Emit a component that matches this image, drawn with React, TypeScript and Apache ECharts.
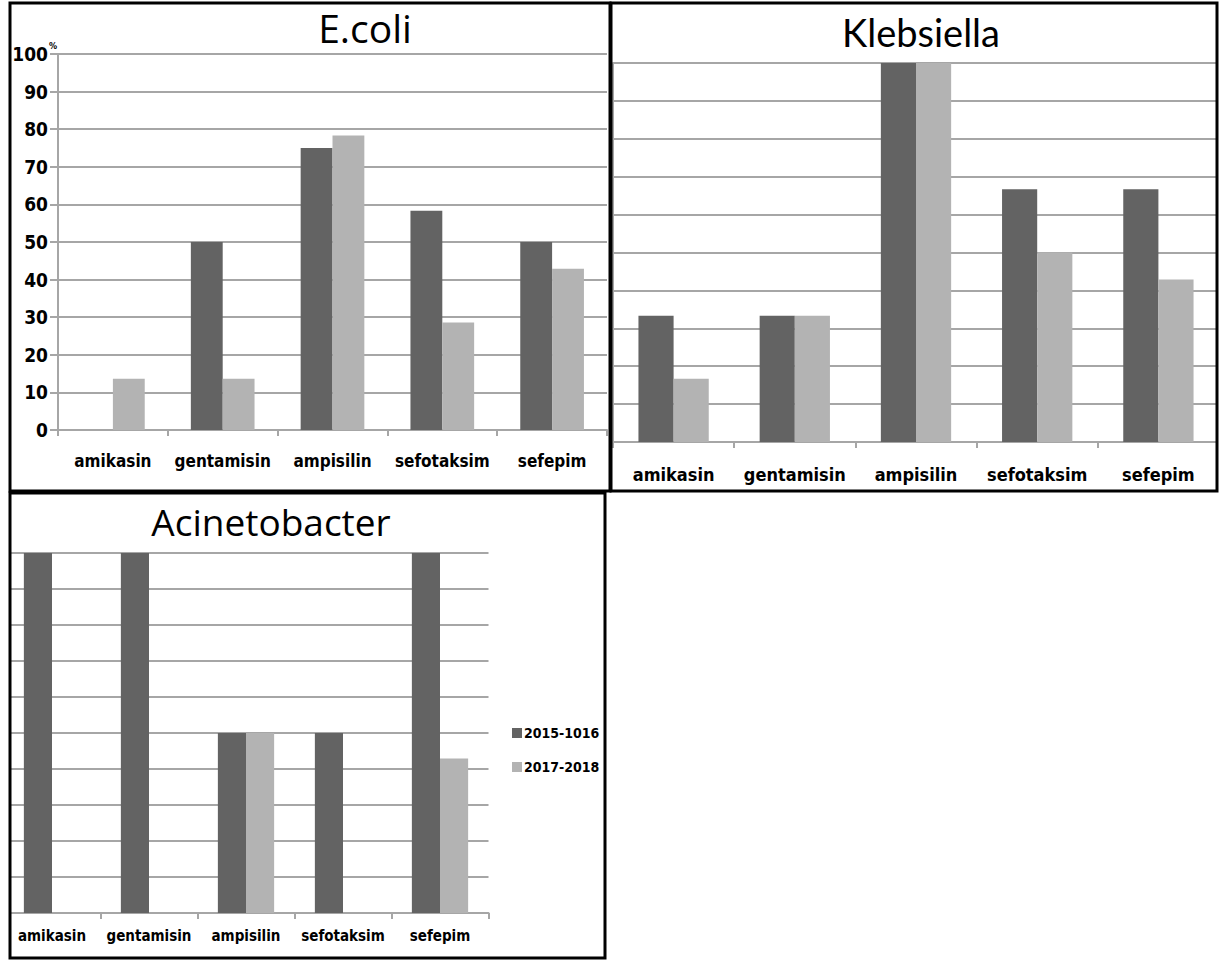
import React, { useEffect, useRef } from "react";
import * as echarts from "echarts";

const categories = ["amikasin", "gentamisin", "ampisilin", "sefotaksim", "sefepim"];
const seriesNames = ["2015-1016", "2017-2018"];
const ecoli2015 = [0, 50, 75, 58.3, 50];
const ecoli2017 = [13.6, 13.6, 78.3, 28.6, 42.9];
const kleb2015 = [33.3, 33.3, 100, 66.7, 66.7];
const kleb2017 = [16.7, 33.3, 100, 50, 42.9];
const acin2015 = [100, 100, 50, 50, 100];
const acin2017 = [0, 0, 50, 0, 42.9];
const titles = ["E.coli", "Klebsiella", "Acinetobacter"];
const unitLabel = "%";

const DARK = "#636363";
const LIGHT = "#b3b3b3";
const GRID = "#a6a6a6";
const LABEL_FONT = "'DejaVu Sans Condensed', 'DejaVu Sans', sans-serif";
const TITLE_FONT_A = "'Open Sans', Lato, sans-serif";
const TITLE_FONT_B = "Lato, 'Open Sans', sans-serif";

export default function App() {
  const ref = useRef<HTMLDivElement>(null);
  useEffect(() => {
    if (!ref.current) return;
    const chart = echarts.init(ref.current, null, { renderer: "svg" });
    const labelStyle = { fontFamily: LABEL_FONT, fontWeight: "bold" as const, fontSize: 18, color: "#000" };
    const xAxisBase = (gridIndex: number, margin: number, fontSize: number) => ({
      type: "category" as const,
      gridIndex,
      data: categories,
      axisLine: { show: true, lineStyle: { color: GRID, width: 2 } },
      axisTick: { show: true, length: 6, lineStyle: { color: GRID, width: 2 } },
      axisLabel: { ...labelStyle, fontSize, margin, interval: 0 },
    });
    const yAxisBase = (gridIndex: number, showLabels: boolean) => ({
      type: "value" as const,
      gridIndex,
      min: 0,
      max: 100,
      interval: 10,
      axisLine: { show: true, lineStyle: { color: GRID, width: 2 } },
      axisTick: { show: showLabels, length: 8, lineStyle: { color: GRID, width: 2 } },
      axisLabel: { show: showLabels, ...labelStyle, fontSize: 19, margin: 10 },
      splitLine: { show: true, lineStyle: { color: GRID, width: 2 } },
    });
    const barSeries = (name: string, data: number[], idx: number, color: string) => ({
      type: "bar" as const,
      name,
      data,
      xAxisIndex: idx,
      yAxisIndex: idx,
      barGap: "0%",
      barCategoryGap: "42%",
      itemStyle: { color },
    });
    chart.setOption({
      animation: false,
      backgroundColor: "#fff",
      title: [
        { text: titles[0], left: 360, top: 3, textAlign: "center", textStyle: { fontFamily: TITLE_FONT_A, fontWeight: "normal", fontSize: 39, color: "#000" } },
        { text: titles[1], left: 916, top: 8, textAlign: "center", textStyle: { fontFamily: TITLE_FONT_B, fontWeight: "normal", fontSize: 38, color: "#000" } },
        { text: titles[2], left: 266, top: 498, textAlign: "center", textStyle: { fontFamily: TITLE_FONT_A, fontWeight: "normal", fontSize: 37, color: "#000" } },
      ],
      legend: {
        data: seriesNames,
        orient: "vertical",
        left: 507,
        top: 721,
        icon: "rect",
        itemWidth: 10,
        itemHeight: 10,
        itemGap: 20,
        textStyle: { ...labelStyle, fontSize: 14, padding: [0, 0, 0, -3] },
      },
      grid: [
        { left: 58, top: 54, width: 549, height: 376 },
        { left: 613, top: 63, width: 617.5, height: 379 },
        { left: 3.5, top: 553, width: 485, height: 360 },
      ],
      xAxis: [xAxisBase(0, 22, 17), xAxisBase(1, 23, 18), xAxisBase(2, 15, 15)],
      yAxis: [yAxisBase(0, true), yAxisBase(1, false), yAxisBase(2, false)],
      series: [
        barSeries(seriesNames[0], ecoli2015, 0, DARK),
        barSeries(seriesNames[1], ecoli2017, 0, LIGHT),
        barSeries(seriesNames[0], kleb2015, 1, DARK),
        barSeries(seriesNames[1], kleb2017, 1, LIGHT),
        barSeries(seriesNames[0], acin2015, 2, DARK),
        barSeries(seriesNames[1], acin2017, 2, LIGHT),
      ],
      graphic: [
        { type: "rect", z: 90, shape: { x: 0, y: 490, width: 9, height: 470 }, style: { fill: "#fff" } },
        { type: "rect", z: 90, shape: { x: 1218, y: 0, width: 10, height: 500 }, style: { fill: "#fff" } },
        { type: "rect", z: 100, shape: { x: 10, y: 3, width: 600, height: 488 }, style: { fill: "none", stroke: "#000", lineWidth: 3 } },
        { type: "rect", z: 100, shape: { x: 611, y: 3, width: 606, height: 488 }, style: { fill: "none", stroke: "#000", lineWidth: 3 } },
        { type: "rect", z: 100, shape: { x: 10, y: 493, width: 595, height: 465 }, style: { fill: "none", stroke: "#000", lineWidth: 3 } },
        {
          type: "text",
          z: 100,
          x: 53,
          y: 46,
          style: { text: unitLabel, fontFamily: LABEL_FONT, fontWeight: "bold", fontSize: 9, fill: "#000", align: "center", verticalAlign: "middle" },
        },
      ],
    });
    return () => chart.dispose();
  }, []);
  return <div ref={ref} style={{ position: "fixed", left: 0, top: 0, width: 1219, height: 960 }} />;
}
